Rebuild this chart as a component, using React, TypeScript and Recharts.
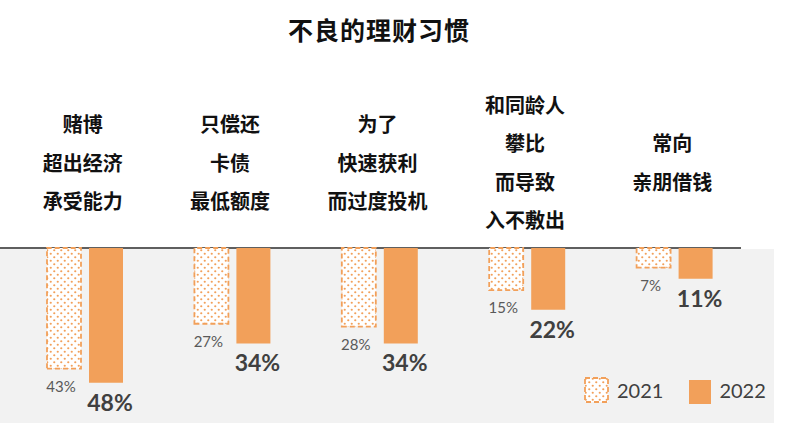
import React from 'react';
import { BarChart, Bar, XAxis, YAxis, LabelList } from 'recharts';

// category labels (line breaks as in the original slide)
const categories = [
  '赌博\n超出经济\n承受能力',
  '只偿还\n卡债\n最低额度',
  '为了\n快速获利\n而过度投机',
  '和同龄人\n攀比\n而导致\n入不敷出',
  '常向\n亲朋借钱',
];
const values2021 = [43, 27, 28, 15, 7];
const values2022 = [48, 34, 34, 22, 11];
const seriesNames = ['2021', '2022'];

const data = categories.map((name, i) => ({
  name,
  y2021: values2021[i],
  y2022: values2022[i],
}));

const ORANGE = '#F2A05A';
const CJK = '"Noto Sans CJK SC", "Noto Sans", sans-serif';
const NUM = 'Lato, "Noto Sans", sans-serif';

const CategoryTick = (props: any) => {
  const { x, payload } = props;
  const lines = String(payload.value).split('\n');
  const spacing = 38.5;
  const centerY = 162;
  const startY = centerY - ((lines.length - 1) * spacing) / 2;
  return (
    <g>
      {lines.map((line, i) => (
        <text
          key={i}
          x={x - 2}
          y={startY + i * spacing}
          textAnchor="middle"
          dominantBaseline="central"
          fontFamily={CJK}
          fontWeight={700}
          fontSize={20}
          fill="#111"
        >
          {line}
        </text>
      ))}
    </g>
  );
};

const SmallLabel = (props: any) => {
  const { x, y, width, height, value } = props;
  const bottom = Math.max(y, y + height);
  return (
    <text
      x={x + width / 2 - 3}
      y={bottom + 17}
      textAnchor="middle"
      dominantBaseline="central"
      fontFamily={NUM}
      fontSize={15}
      fill="#595959"
    >
      {value}%
    </text>
  );
};

const BigLabel = (props: any) => {
  const { x, y, width, height, value } = props;
  const bottom = Math.max(y, y + height);
  return (
    <text
      x={x + width / 2 + 4}
      y={bottom + 19}
      textAnchor="middle"
      dominantBaseline="central"
      fontFamily={NUM}
      fontWeight={700}
      fontSize={23}
      fill="#404040"
    >
      {value}%
    </text>
  );
};

export default function App() {
  return (
    <div
      style={{
        position: 'absolute',
        left: 0,
        top: 0,
        width: 800,
        height: 441,
        background: '#fff',
        overflow: 'hidden',
      }}
    >
      {/* gray panel + baseline */}
      <div style={{ position: 'absolute', left: 0, top: 249, width: 774, height: 174, background: '#F2F2F2' }} />
      <div style={{ position: 'absolute', left: 0, top: 247, width: 741, height: 2, background: '#5F5F5F' }} />
      <div
        style={{
          position: 'absolute',
          left: 0,
          top: 11,
          width: 758,
          textAlign: 'center',
          fontFamily: CJK,
          fontWeight: 700,
          fontSize: 25,
          letterSpacing: 1,
          color: '#111',
        }}
      >
        不良的理财习惯
      </div>
      <div style={{ position: 'absolute', left: 0, top: 0 }}>
        <BarChart
          width={800}
          height={441}
          data={data}
          margin={{ top: 48, right: 52, bottom: 19, left: 11 }}
          barSize={34}
          barGap={8}
        >
          <defs>
            <pattern id="dots2021" patternUnits="userSpaceOnUse" width="7" height="7">
              <rect width="7" height="7" fill="#fff" />
              <circle cx="1.75" cy="1.75" r="1.1" fill={ORANGE} />
              <circle cx="5.25" cy="5.25" r="1.1" fill={ORANGE} />
            </pattern>
          </defs>
          <XAxis
            dataKey="name"
            orientation="top"
            height={200}
            axisLine={false}
            tickLine={false}
            interval={0}
            tick={<CategoryTick />}
          />
          <YAxis hide reversed domain={[0, 62]} />
          <Bar
            dataKey="y2021"
            name={seriesNames[0]}
            fill="url(#dots2021)"
            stroke={ORANGE}
            strokeWidth={1.8}
            strokeDasharray="5 3"
            isAnimationActive={false}
          >
            <LabelList dataKey="y2021" content={<SmallLabel />} />
          </Bar>
          <Bar dataKey="y2022" name={seriesNames[1]} fill={ORANGE} isAnimationActive={false}>
            <LabelList dataKey="y2022" content={<BigLabel />} />
          </Bar>
        </BarChart>
      </div>
      {/* legend */}
      <div
        style={{
          position: 'absolute',
          left: 584,
          top: 376,
          display: 'flex',
          alignItems: 'center',
          fontFamily: NUM,
          fontSize: 20,
          color: '#404040',
        }}
      >
        <svg width={25} height={26} style={{ marginRight: 8 }}>
          <defs>
            <pattern id="dotsLegend" patternUnits="userSpaceOnUse" width="7" height="7">
              <rect width="7" height="7" fill="#fff" />
              <circle cx="1.75" cy="1.75" r="1.1" fill={ORANGE} />
              <circle cx="5.25" cy="5.25" r="1.1" fill={ORANGE} />
            </pattern>
          </defs>
          <rect x={1} y={1} width={23} height={24} fill="url(#dotsLegend)" stroke={ORANGE} strokeWidth={1.8} strokeDasharray="5 3" />
        </svg>
        <span style={{ marginRight: 26 }}>{seriesNames[0]}</span>
        <svg width={22} height={24} style={{ marginRight: 8, marginTop: 4 }}>
          <rect width={22} height={24} fill={ORANGE} />
        </svg>
        <span>{seriesNames[1]}</span>
      </div>
    </div>
  );
}
